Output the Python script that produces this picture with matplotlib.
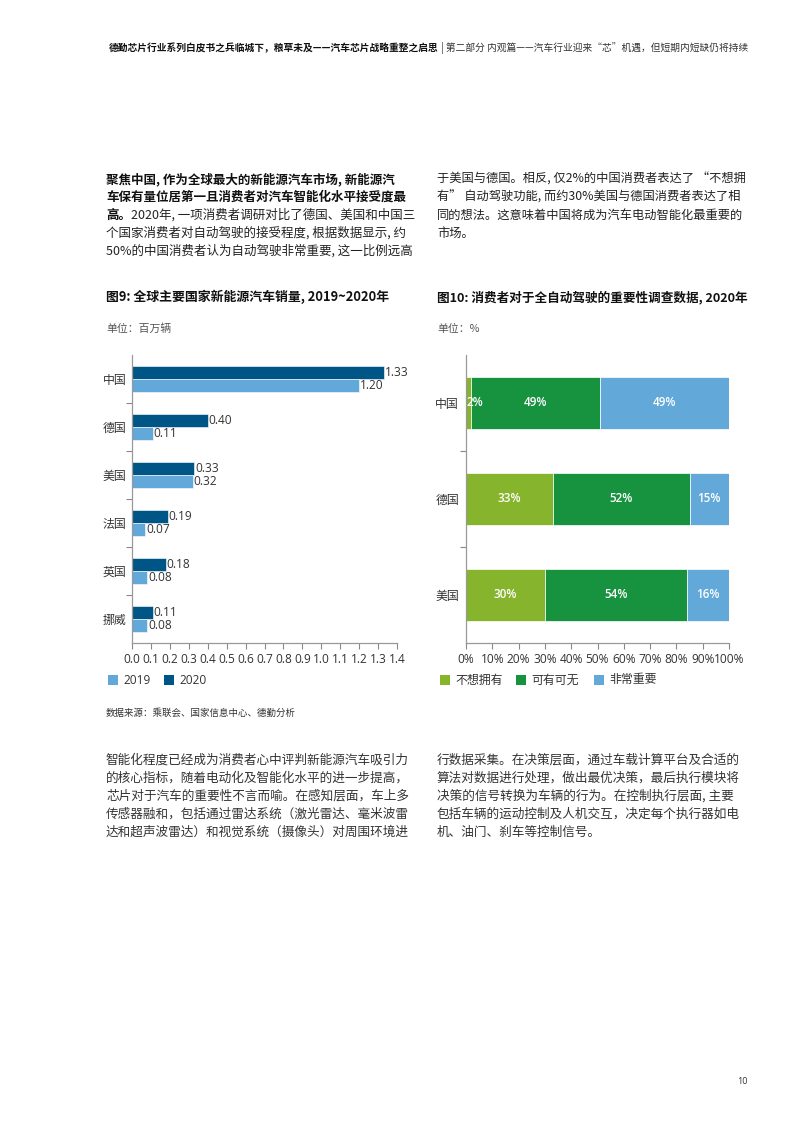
import matplotlib
matplotlib.use("Agg")
import matplotlib.pyplot as plt
from matplotlib.patches import Rectangle
import numpy as np

plt.rcParams['font.family'] = ['Noto Sans CJK SC', 'DejaVu Sans']

# ---------------- data ----------------
countries9 = ['中国', '德国', '美国', '法国', '英国', '挪威']
sales_2019 = [1.20, 0.11, 0.32, 0.07, 0.08, 0.08]
sales_2020 = [1.33, 0.40, 0.33, 0.19, 0.18, 0.11]
xticks9 = [round(0.1 * i, 1) for i in range(15)]

countries10 = ['中国', '德国', '美国']
not_want = [2, 33, 30]
optional = [49, 52, 54]
very_important = [49, 15, 16]
series10_names = ['不想拥有', '可有可无', '非常重要']
xticks10 = list(range(0, 101, 10))

C_LIGHT = '#62A8D8'
C_DARK = '#005587'
C_LGREEN = '#86B42C'
C_DGREEN = '#17923F'
TXT = '#222222'
GRAY = '#555555'
LAT = ['Open Sans', 'DejaVu Sans']

W, H = 793, 1122
fig = plt.figure(figsize=(W / 100, H / 100), dpi=100)
fig.patch.set_facecolor('white')


def fx(x):
    return x / W


def fy(y):
    return 1 - y / H


renderer = fig.canvas.get_renderer()


def seq_text(x, y, parts, size, va='center'):
    cur = x
    for s, w, c in parts:
        t = fig.text(fx(cur), fy(y), s, fontsize=size, fontweight=w, color=c,
                     ha='left', va=va)
        bb = t.get_window_extent(renderer=renderer)
        cur += bb.width


def width_of(s, size, weight):
    t = fig.text(0, 0, s, fontsize=size, fontweight=weight)
    w = t.get_window_extent(renderer=renderer).width
    t.remove()
    return w


# ---------------- header ----------------
hdr_bold = '德勤芯片行业系列白皮书之兵临城下，粮草未及——汽车芯片战略重整之启思'
hdr_reg = ' | 第二部分 内观篇——汽车行业迎来“芯”机遇，但短期内短缺仍将持续'
hs = 7.0
wb = width_of(hdr_bold, hs, 'bold')
wr = width_of(hdr_reg, hs, 'normal')
seq_text(748 - wb - wr, 48, [(hdr_bold, 'bold', '#111111'), (hdr_reg, 'normal', '#333333')], hs)

# ---------------- top paragraphs ----------------
ps = 9.0
lh = 18
left_lines = [
    [('聚焦中国, 作为全球最大的新能源汽车市场, 新能源汽', 'bold', '#111111')],
    [('车保有量位居第一且消费者对汽车智能化水平接受度最', 'bold', '#111111')],
    [('高。', 'bold', '#111111'), ('2020年, 一项消费者调研对比了德国、美国和中国三', 'normal', TXT)],
    [('个国家消费者对自动驾驶的接受程度, 根据数据显示, 约', 'normal', TXT)],
    [('50%的中国消费者认为自动驾驶非常重要, 这一比例远高', 'normal', TXT)],
]
for i, parts in enumerate(left_lines):
    seq_text(106, 179 + i * lh, parts, ps)

right_lines = [
    '于美国与德国。相反, 仅2%的中国消费者表达了 “不想拥',
    '有” 自动驾驶功能, 而约30%美国与德国消费者表达了相',
    '同的想法。这意味着中国将成为汽车电动智能化最重要的',
    '市场。',
]
for i, s in enumerate(right_lines):
    fig.text(fx(437), fy(179 + i * lh), s, fontsize=8.8, color=TXT, ha='left', va='center')

# ---------------- chart titles ----------------
fig.text(fx(106), fy(297), '图9: 全球主要国家新能源汽车销量, 2019~2020年', fontsize=9.3,
         fontweight='bold', color='#111111', ha='left', va='center')
fig.text(fx(437), fy(297), '图10: 消费者对于全自动驾驶的重要性调查数据, 2020年', fontsize=9.1,
         fontweight='bold', color='#111111', ha='left', va='center')
fig.text(fx(106), fy(329), '单位：百万辆', fontsize=7.8, color=GRAY, ha='left', va='center')
fig.text(fx(437), fy(329), '单位：%', fontsize=7.8, color=GRAY, ha='left', va='center')

FS = 8.6

# ---------------- chart 9 ----------------
ax1 = fig.add_axes([fx(132), fy(643), fx(397) - fx(132), (643 - 355) / H])
n = len(countries9)
yy = np.arange(n)
bh = 0.27
ax1.barh(yy - bh / 2, sales_2020, height=bh, color=C_DARK, edgecolor='white', linewidth=0.4)
ax1.barh(yy + bh / 2, sales_2019, height=bh, color=C_LIGHT, edgecolor='white', linewidth=0.4)
for i in range(n):
    ax1.text(sales_2020[i] + 0.004, yy[i] - bh / 2, f'{sales_2020[i]:.2f}', fontsize=FS,
             color='#333333', va='center', ha='left', family=LAT)
    ax1.text(sales_2019[i] + 0.004, yy[i] + bh / 2, f'{sales_2019[i]:.2f}', fontsize=FS,
             color='#333333', va='center', ha='left', family=LAT)
ax1.set_xlim(0, 1.4)
ax1.set_ylim(n - 0.5, -0.5)
ax1.set_xticks(xticks9)
ax1.set_xticklabels([f'{v:.1f}' for v in xticks9], fontsize=FS, color='#333333', family=LAT)
ax1.set_yticks(yy)
ax1.set_yticklabels(countries9, fontsize=FS, color='#333333')
ax1.tick_params(axis='y', which='major', length=0, pad=4)
ax1.set_yticks(np.arange(0.5, n - 0.5, 1), minor=True)
ax1.tick_params(axis='y', which='minor', length=4, color='#888888', width=0.8)
ax1.tick_params(axis='x', length=4, color='#888888', width=0.8, pad=3)
for s in ['top', 'right']:
    ax1.spines[s].set_visible(False)
for s in ['left', 'bottom']:
    ax1.spines[s].set_color('#999999')
    ax1.spines[s].set_linewidth(0.9)

for xs, lab, col in [(108, '2019', C_LIGHT), (164, '2020', C_DARK)]:
    fig.patches.append(Rectangle((fx(xs), fy(685)), 10 / W, 10 / H, transform=fig.transFigure,
                                 facecolor=col, edgecolor='none'))
    fig.text(fx(xs + 15), fy(680), lab, fontsize=FS, color='#333333', ha='left', va='center',
             family=LAT)

fig.text(fx(106), fy(713), '数据来源：乘联会、国家信息中心、德勤分析', fontsize=6.8, color='#333333',
         ha='left', va='center')

# ---------------- chart 10 ----------------
ax2 = fig.add_axes([fx(466), fy(643), fx(729) - fx(466), (643 - 355) / H])
m = len(countries10)
y2 = np.arange(m)
bh2 = 0.54
vals = [not_want, optional, very_important]
cols = [C_LGREEN, C_DGREEN, C_LIGHT]
left = np.zeros(m)
for k in range(3):
    v = np.array(vals[k], dtype=float)
    ax2.barh(y2, v, left=left, height=bh2, color=cols[k], edgecolor='white', linewidth=0.5)
    for i in range(m):
        cx = left[i] + v[i] / 2
        if v[i] < 5:
            cx = left[i] + 3.5
        ax2.text(cx, y2[i], f'{int(v[i])}%', fontsize=8.4, color='white', ha='center', va='center',
                 fontweight='semibold', family=LAT)
    left += v
ax2.set_xlim(0, 100)
ax2.set_ylim(m - 0.5, -0.5)
ax2.set_xticks(xticks10)
ax2.set_xticklabels([f'{v}%' for v in xticks10], fontsize=FS, color='#333333', family=LAT)
ax2.set_yticks(y2)
ax2.set_yticklabels(countries10, fontsize=FS, color='#333333')
ax2.tick_params(axis='y', which='major', length=0, pad=5)
ax2.set_yticks(np.arange(0.5, m - 0.5, 1), minor=True)
ax2.tick_params(axis='y', which='minor', length=4, color='#888888', width=0.8)
ax2.tick_params(axis='x', length=4, color='#888888', width=0.8, pad=3)
for s in ['top', 'right']:
    ax2.spines[s].set_visible(False)
for s in ['left', 'bottom']:
    ax2.spines[s].set_color('#999999')
    ax2.spines[s].set_linewidth(0.9)

for xs, lab, col in zip([440, 516, 594], series10_names, cols):
    fig.patches.append(Rectangle((fx(xs), fy(685)), 10 / W, 10 / H, transform=fig.transFigure,
                                 facecolor=col, edgecolor='none'))
    fig.text(fx(xs + 15), fy(680), lab, fontsize=FS, color='#333333', ha='left', va='center')

# ---------------- bottom paragraphs ----------------
bl = [
    '智能化程度已经成为消费者心中评判新能源汽车吸引力',
    '的核心指标，随着电动化及智能化水平的进一步提高，',
    '芯片对于汽车的重要性不言而喻。在感知层面，车上多',
    '传感器融和，包括通过雷达系统（激光雷达、毫米波雷',
    '达和超声波雷达）和视觉系统（摄像头）对周围环境进',
]
br = [
    '行数据采集。在决策层面，通过车载计算平台及合适的',
    '算法对数据进行处理，做出最优决策，最后执行模块将',
    '决策的信号转换为车辆的行为。在控制执行层面, 主要',
    '包括车辆的运动控制及人机交互，决定每个执行器如电',
    '机、油门、刹车等控制信号。',
]
for i, s in enumerate(bl):
    fig.text(fx(106), fy(760 + i * lh), s, fontsize=9.1, color='#333333', ha='left', va='center')
for i, s in enumerate(br):
    fig.text(fx(437), fy(760 + i * lh), s, fontsize=9.1, color='#333333', ha='left', va='center')

fig.text(fx(742), fy(1082), '10', fontsize=6.5, color='#333333', ha='center', va='center',
         family=LAT)

fig.savefig('out.png', dpi=100, facecolor='white')
